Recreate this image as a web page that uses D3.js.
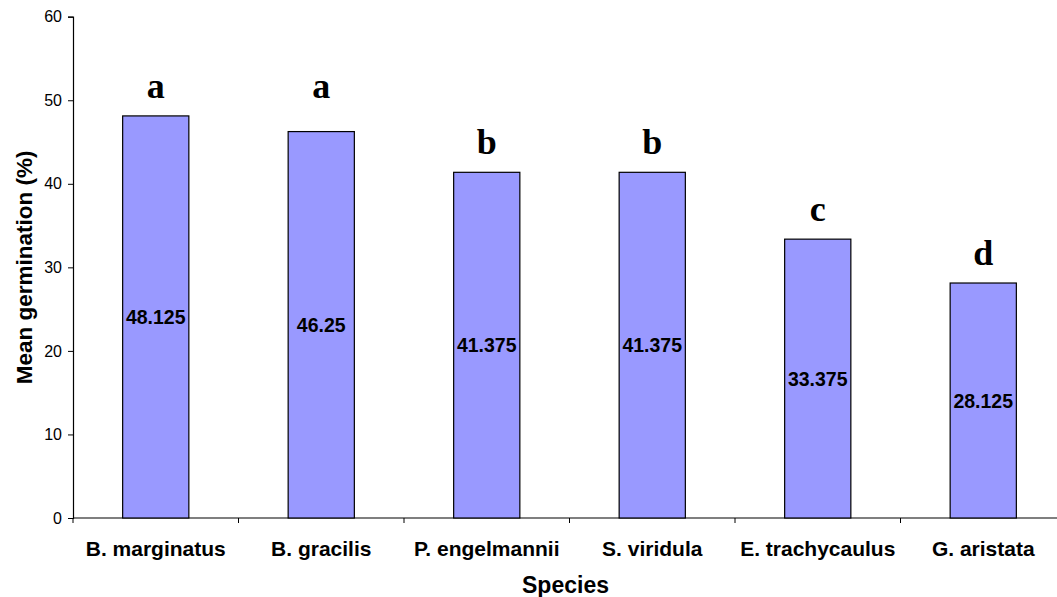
<!DOCTYPE html>
<html>
<head>
<meta charset="utf-8">
<script src="https://cdn.jsdelivr.net/npm/d3@7"></script>
<style>
  html, body { margin: 0; padding: 0; background: #fff; }
  svg { display: block; }
</style>
</head>
<body>
<svg id="chart" width="1057" height="597"></svg>
<script>
// Mean germination by species, with significance groups
const species = ["B. marginatus", "B. gracilis", "P. engelmannii", "S. viridula", "E. trachycaulus", "G. aristata"];
const germination = [48.125, 46.25, 41.375, 41.375, 33.375, 28.125];
const groups = ["a", "a", "b", "b", "c", "d"];
const yTicks = [0, 10, 20, 30, 40, 50, 60];

const svg = d3.select("#chart");
const plotLeft = 73, plotRight = 1066, plotTop = 16.7, plotBottom = 518;

const x = d3.scaleBand().domain(species).range([plotLeft, plotRight]).paddingInner(0).paddingOuter(0);
const y = d3.scaleLinear().domain([0, 60]).range([plotBottom, plotTop]);
const barW = x.bandwidth() * 0.4;

// y axis
const yAxis = svg.append("g")
  .attr("transform", `translate(${plotLeft},0)`)
  .call(d3.axisLeft(y).tickValues(yTicks).tickSize(5).tickPadding(6));
yAxis.select(".domain").attr("stroke", "#000").attr("stroke-width", 1.2);
yAxis.selectAll(".tick line").attr("stroke", "#000");
yAxis.selectAll(".tick text")
  .attr("font-family", "Liberation Sans, Arial, sans-serif")
  .attr("font-size", 16).attr("fill", "#000");

// x axis: ticks sit on category boundaries
const xAxisG = svg.append("g").attr("transform", `translate(0,${plotBottom})`);
xAxisG.append("line").attr("x1", plotLeft).attr("x2", plotRight).attr("y1", 0).attr("y2", 0)
  .attr("stroke", "#000").attr("stroke-width", 1.2);
const boundaries = species.map(s => x(s)).concat([x(species[species.length - 1]) + x.bandwidth()]);
xAxisG.selectAll("line.tick").data(boundaries).join("line").attr("class", "tick")
  .attr("x1", d => d).attr("x2", d => d).attr("y1", 0).attr("y2", 5)
  .attr("stroke", "#000");
xAxisG.selectAll("text.cat").data(species).join("text").attr("class", "cat")
  .attr("x", d => x(d) + x.bandwidth() / 2).attr("y", 37.5)
  .attr("text-anchor", "middle")
  .attr("font-family", "Liberation Sans, Arial, sans-serif")
  .attr("font-weight", "bold").attr("font-size", 21).attr("fill", "#000")
  .text(d => d);

// bars
const rows = species.map((s, i) => ({ s, v: germination[i], g: groups[i] }));
svg.selectAll("rect.bar").data(rows).join("rect").attr("class", "bar")
  .attr("x", d => x(d.s) + (x.bandwidth() - barW) / 2)
  .attr("y", d => y(d.v))
  .attr("width", barW)
  .attr("height", d => y(0) - y(d.v))
  .attr("fill", "#9999FF").attr("stroke", "#000").attr("stroke-width", 1.2);

// value labels in the middle of each bar
svg.selectAll("text.val").data(rows).join("text").attr("class", "val")
  .attr("x", d => x(d.s) + x.bandwidth() / 2)
  .attr("y", d => (y(d.v) + y(0)) / 2)
  .attr("dy", "0.36em")
  .attr("text-anchor", "middle")
  .attr("font-family", "Liberation Sans, Arial, sans-serif")
  .attr("font-weight", "bold").attr("font-size", 19.5).attr("fill", "#000")
  .text(d => d.v);

// significance letters, aligned above the tallest bar of each group
const groupMax = d3.rollup(rows, v => d3.max(v, d => d.v), d => d.g);
svg.selectAll("text.grp").data(rows).join("text").attr("class", "grp")
  .attr("x", d => x(d.s) + x.bandwidth() / 2)
  .attr("y", d => y(groupMax.get(d.g)) - 18)
  .attr("text-anchor", "middle")
  .attr("font-family", "Liberation Serif, Times New Roman, serif")
  .attr("font-weight", "bold").attr("font-size", 36).attr("fill", "#000")
  .text(d => d.g);

// axis titles
svg.append("text")
  .attr("x", (plotLeft + plotRight) / 2 - 4).attr("y", 593)
  .attr("text-anchor", "middle")
  .attr("font-family", "Liberation Sans, Arial, sans-serif")
  .attr("font-weight", "bold").attr("font-size", 23).attr("fill", "#000")
  .text("Species");

svg.append("text")
  .attr("transform", `translate(32,${(plotTop + plotBottom) / 2}) rotate(-90)`)
  .attr("text-anchor", "middle")
  .attr("font-family", "Liberation Sans, Arial, sans-serif")
  .attr("font-weight", "bold").attr("font-size", 22.5).attr("fill", "#000")
  .text("Mean germination (%)");
</script>
</body>
</html>
